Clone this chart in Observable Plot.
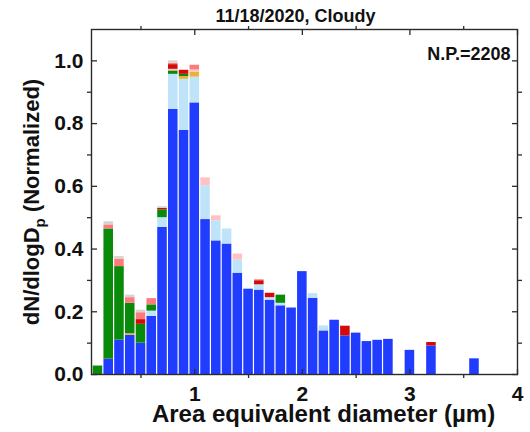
<!DOCTYPE html>
<html>
<head>
<meta charset="utf-8">
<script src="https://cdn.jsdelivr.net/npm/d3@7"></script>
<script src="https://cdn.jsdelivr.net/npm/@observablehq/plot@0.6"></script>
<style>
  body { margin: 0; background: #fff; }
  svg { display: block; }
</style>
</head>
<body>
<div id="chart"></div>
<script>
// Size distribution of particles, 11/18/2020 (cloudy), normalized dN/dlogDp.
const titleText = "11/18/2020, Cloudy";
const countText = "N.P.=2208";
const xTitle = "Area equivalent diameter (\u00b5m)";
const yTitle = "dN/dlogDp (Normalized)";

const binWidth = 0.1;
// bin centres (µm)
const diameters = [0.1, 0.2, 0.3, 0.4, 0.5, 0.6, 0.7, 0.8, 0.9, 1.0,
                   1.1, 1.2, 1.3, 1.4, 1.5, 1.6, 1.7, 1.8, 1.9, 2.0,
                   2.1, 2.2, 2.3, 2.4, 2.5, 2.6, 2.7, 2.8, 3.0, 3.2, 3.6];

// stacked contributions per particle class (bottom to top)
const class1 = [0, 0.049, 0.110, 0.125, 0.100, 0.185, 0.469, 0.845, 0.778, 0.866,
                0.494, 0.426, 0.416, 0.323, 0.272, 0.269, 0.237, 0.219, 0.212, 0.328,
                0.243, 0.139, 0.173, 0.123, 0.132, 0.105, 0.109, 0.112, 0.077, 0.091, 0.050];
const class2 = [0, 0, 0, 0, 0, 0.017, 0.031, 0.112, 0.163, 0.082,
                0.108, 0.064, 0.048, 0.042, 0, 0.017, 0.008, 0.008, 0, 0,
                0.015, 0.016, 0, 0, 0, 0, 0, 0, 0, 0, 0];
const class3 = [0, 0, 0, 0.005, 0, 0, 0, 0, 0.009, 0.016,
                0, 0, 0, 0, 0, 0, 0, 0, 0, 0,
                0, 0, 0, 0, 0, 0, 0, 0, 0, 0, 0];
const class4 = [0.027, 0.415, 0.234, 0.097, 0.060, 0.020, 0.025, 0.011, 0.007, 0,
                0, 0, 0, 0, 0, 0, 0, 0.026, 0, 0,
                0, 0, 0, 0, 0, 0, 0, 0, 0, 0, 0];
const class5 = [0, 0, 0, 0, 0, 0, 0, 0.005, 0, 0.007,
                0.025, 0.016, 0, 0.019, 0, 0, 0, 0, 0, 0,
                0, 0, 0, 0, 0, 0, 0, 0, 0, 0, 0];
const class6 = [0, 0, 0, 0, 0.015, 0, 0.005, 0.015, 0.013, 0,
                0, 0, 0, 0, 0, 0.013, 0.014, 0, 0, 0,
                0, 0, 0, 0.031, 0, 0, 0, 0, 0, 0.011, 0];
const class7 = [0, 0.013, 0.024, 0.018, 0.022, 0.020, 0, 0.004, 0, 0.015,
                0, 0, 0, 0, 0, 0.003, 0, 0, 0, 0,
                0, 0, 0, 0, 0, 0, 0, 0, 0, 0, 0];
const class8 = [0, 0.010, 0.008, 0.008, 0.008, 0, 0.005, 0.008, 0, 0,
                0, 0, 0, 0, 0, 0, 0, 0, 0, 0,
                0, 0, 0, 0, 0, 0, 0, 0, 0, 0, 0];

const seriesNames  = ["class1", "class2", "class3", "class4", "class5", "class6", "class7", "class8"];
const seriesValues = [class1, class2, class3, class4, class5, class6, class7, class8];
const seriesColors = ["#1f3cff", "#bfe4fa", "#e9b23a", "#0a8a0a", "#ffc2c2", "#d20a0a", "#ff7b7b", "#d4d4d4"];

const xMajor = [1, 2, 3, 4];
const xMinor = [0.5, 1.5, 2.5, 3.5];
const yMajor = [0, 0.2, 0.4, 0.6, 0.8, 1.0];
const yMinor = [0.1, 0.3, 0.5, 0.7, 0.9];

// long table: one row per (bin, class)
const rows = [];
diameters.forEach((d, i) => {
  seriesNames.forEach((s, k) => {
    const v = seriesValues[k][i];
    if (v > 0) rows.push({x1: d - binWidth / 2, x2: d + binWidth / 2, value: v, series: s});
  });
});

const ink = "#2b2b2b";
const tickMarks = (scaleAxis, anchor, ticks, size) =>
  scaleAxis({anchor, ticks, tickSize: size, tickFormat: () => "", stroke: ink, strokeWidth: 1.3, label: null});

const chart = Plot.plot({
  width: 530,
  height: 432,
  marginTop: 29,
  marginRight: 13,
  marginBottom: 58,
  marginLeft: 91,
  style: {fontFamily: "'Liberation Sans', Arial, sans-serif", fontWeight: "bold", fontSize: "21px", background: "#fff", color: "#111"},
  x: {domain: [0.04, 4], label: null},
  y: {domain: [0, 1.1], label: null},
  color: {domain: seriesNames, range: seriesColors},
  marks: [
    Plot.rectY(rows, Plot.stackY({order: seriesNames}, {
      x1: "x1", x2: "x2", y: "value", fill: "series", insetLeft: 0.6, insetRight: 0.6
    })),
    Plot.frame({stroke: ink, strokeWidth: 1.4}),
    // tick labels
    Plot.axisX({anchor: "bottom", ticks: xMajor, tickSize: 0, tickPadding: 12, fontSize: 21, label: null, tickFormat: d3.format("d")}),
    Plot.axisY({anchor: "left", ticks: yMajor, tickSize: 0, tickPadding: 8, fontSize: 21, label: null, tickFormat: d3.format(".1f")}),
    // major ticks point inward, minor ticks outward, on all four sides
    tickMarks(Plot.axisX, "bottom", xMajor, -5),
    tickMarks(Plot.axisX, "top", xMajor, -5),
    tickMarks(Plot.axisY, "left", yMajor, -6),
    tickMarks(Plot.axisY, "right", yMajor, -6),
    tickMarks(Plot.axisX, "bottom", xMinor, 4),
    tickMarks(Plot.axisX, "top", xMinor, 4),
    tickMarks(Plot.axisY, "left", yMinor, 4),
    tickMarks(Plot.axisY, "right", yMinor, 4),
    // titles
    Plot.text([titleText], {text: d => d, frameAnchor: "top", lineAnchor: "middle", textAnchor: "middle", dx: -9, dy: -13, fontSize: 18, fill: "#111"}),
    Plot.text([countText], {text: d => d, frameAnchor: "top-right", lineAnchor: "middle", textAnchor: "end", dx: -7, dy: 25, fontSize: 18, fill: "#111"}),
    Plot.text([xTitle], {text: d => d, frameAnchor: "bottom", lineAnchor: "middle", textAnchor: "middle", dx: 19, dy: 40, fontSize: 24, fill: "#111"}),
    Plot.text([yTitle], {text: d => d, frameAnchor: "left", lineAnchor: "middle", textAnchor: "middle", rotate: -90, dx: -60, fontSize: 22, fill: "#111"})
  ]
});

// subscript p in the y-axis title
d3.select(chart).selectAll("text")
  .filter(function () { return this.textContent === yTitle; })
  .each(function () {
    const t = d3.select(this);
    t.text(null);
    t.append("tspan").text("dN/dlogD");
    t.append("tspan").attr("dy", 6).attr("font-size", 15).text("p");
    t.append("tspan").attr("dy", -6).text(" (Normalized)");
  });

document.getElementById("chart").appendChild(chart);
</script>
</body>
</html>
